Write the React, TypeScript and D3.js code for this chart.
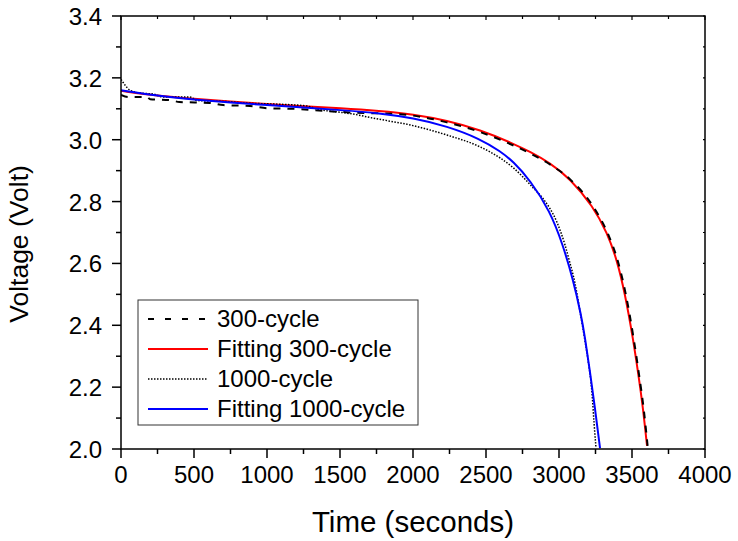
import React from "react";
import * as d3 from "d3";

const xMajorTicks = [0, 500, 1000, 1500, 2000, 2500, 3000, 3500, 4000];
const xTickLabels = ["0", "500", "1000", "1500", "2000", "2500", "3000", "3500", "4000"];
const yMajorTicks = [2.0, 2.2, 2.4, 2.6, 2.8, 3.0, 3.2, 3.4];
const yTickLabels = ["2.0", "2.2", "2.4", "2.6", "2.8", "3.0", "3.2", "3.4"];

const seriesNames = ["300-cycle", "Fitting 300-cycle", "1000-cycle", "Fitting 1000-cycle"];

const cycle300: [number, number][] = [
  [0, 3.145], [50, 3.138], [178, 3.138], [200, 3.131], [335, 3.128], [400, 3.122],
  [610, 3.119], [700, 3.112], [884, 3.109], [1000, 3.102], [1226, 3.099], [1400, 3.093],
  [1568, 3.088], [1890, 3.083], [2000, 3.078], [2233, 3.056], [2459, 3.025], [2685, 2.982],
  [2801, 2.956], [2938, 2.92], [3078, 2.871], [3238, 2.781], [3334, 2.697], [3402, 2.609],
  [3458, 2.499], [3512, 2.355], [3546, 2.248], [3580, 2.13], [3607, 2.01],
];

const fit300: [number, number][] = [
  [0, 3.158], [250, 3.142], [500, 3.132], [750, 3.123], [1000, 3.115], [1250, 3.108],
  [1500, 3.102], [1774, 3.093], [2000, 3.082], [2233, 3.062], [2459, 3.032], [2685, 2.988],
  [2801, 2.961], [2938, 2.925], [3075, 2.875], [3233, 2.785], [3329, 2.7], [3397, 2.612],
  [3452, 2.502], [3507, 2.357], [3541, 2.25], [3575, 2.135], [3603, 2.01],
];

const cycle1000: [number, number][] = [
  [0, 3.195], [15, 3.185], [27, 3.177], [62, 3.16], [150, 3.15], [220, 3.148], [288, 3.138],
  [473, 3.138], [520, 3.127], [767, 3.122], [836, 3.119], [1068, 3.115], [1274, 3.109],
  [1342, 3.099], [1479, 3.09], [1589, 3.083], [1726, 3.07], [1842, 3.06], [1959, 3.05],
  [2080, 3.036], [2233, 3.015], [2459, 2.977], [2600, 2.94], [2685, 2.91], [2822, 2.845],
  [2890, 2.81], [2986, 2.733], [3041, 2.66], [3070, 2.61], [3110, 2.535], [3144, 2.445],
  [3178, 2.35], [3199, 2.288], [3226, 2.181], [3240, 2.085], [3253, 2.005],
];

const fit1000: [number, number][] = [
  [0, 3.16], [250, 3.142], [500, 3.13], [750, 3.12], [1000, 3.112], [1250, 3.104],
  [1500, 3.096], [1774, 3.086], [2000, 3.07], [2233, 3.044], [2459, 3.003], [2600, 2.962],
  [2685, 2.93], [2801, 2.87], [2938, 2.77], [3027, 2.66], [3096, 2.548], [3151, 2.435],
  [3178, 2.36], [3212, 2.25], [3247, 2.13], [3281, 2.003],
];

const W = 738;
const H = 541;
const left = 121;
const right = 705;
const top = 16;
const bottom = 449;
const FONT = "'Liberation Sans', Arial, Helvetica, sans-serif";

export default function App() {
  const x = d3.scaleLinear().domain([0, 4000]).range([left, right]);
  const y = d3.scaleLinear().domain([2.0, 3.4]).range([bottom, top]);

  const lineFit = d3
    .line<[number, number]>()
    .x((d) => x(d[0]))
    .y((d) => y(d[1]))
    .curve(d3.curveBasis);
  const lineData = d3
    .line<[number, number]>()
    .x((d) => x(d[0]))
    .y((d) => y(d[1]))
    .curve(d3.curveMonotoneX);

  const xMinor = d3.range(250, 4000, 500);
  const yMinor = d3.range(2.1, 3.4, 0.2);

  const styles = [
    { stroke: "#000", width: 2, dash: "7,7" },
    { stroke: "#ff0000", width: 2, dash: undefined },
    { stroke: "#000", width: 1.5, dash: "1.5,1.5" },
    { stroke: "#0000ff", width: 2, dash: undefined },
  ];

  const legendX = 138;
  const legendY = 300;
  const rowBase = [327, 357, 387, 417];

  return (
    <svg
      width={W}
      height={H}
      style={{ position: "absolute", left: 0, top: 0, background: "#fff" }}
      fontFamily={FONT}
    >
      <rect x={0} y={0} width={W} height={H} fill="#fff" />
      <defs>
        <clipPath id="plotclip">
          <rect x={left} y={top} width={right - left} height={bottom - top + 1} />
        </clipPath>
      </defs>

      {/* series */}
      <g clipPath="url(#plotclip)" fill="none">
        <path d={lineFit(fit300) || ""} stroke={styles[1].stroke} strokeWidth={styles[1].width} />
        <path d={lineData(cycle300) || ""} stroke={styles[0].stroke} strokeWidth={styles[0].width} strokeDasharray={styles[0].dash} />
        <path d={lineData(cycle1000) || ""} stroke={styles[2].stroke} strokeWidth={styles[2].width} strokeDasharray={styles[2].dash} />
        <path d={lineFit(fit1000) || ""} stroke={styles[3].stroke} strokeWidth={styles[3].width} />
      </g>

      {/* frame */}
      <rect x={left} y={top} width={right - left} height={bottom - top} fill="none" stroke="#000" strokeWidth={1.5} />

      {/* bottom ticks */}
      {xMajorTicks.map((t, i) => (
        <g key={"xb" + i}>
          <line x1={x(t)} x2={x(t)} y1={bottom} y2={bottom + 9} stroke="#000" strokeWidth={1.5} />
          <line x1={x(t)} x2={x(t)} y1={top} y2={top + 4} stroke="#000" strokeWidth={1.2} />
          <text x={x(t)} y={483} textAnchor="middle" fontSize={24} fill="#000">
            {xTickLabels[i]}
          </text>
        </g>
      ))}
      {xMinor.map((t, i) => (
        <g key={"xm" + i}>
          <line x1={x(t)} x2={x(t)} y1={bottom} y2={bottom + 5} stroke="#000" strokeWidth={1.5} />
          <line x1={x(t)} x2={x(t)} y1={top} y2={top + 3} stroke="#000" strokeWidth={1.2} />
        </g>
      ))}

      {/* left ticks */}
      {yMajorTicks.map((v, i) => (
        <g key={"yl" + i}>
          <line x1={left - 9} x2={left} y1={y(v)} y2={y(v)} stroke="#000" strokeWidth={1.5} />
          <line x1={right - 2} x2={right} y1={y(v)} y2={y(v)} stroke="#000" strokeWidth={1.2} />
          <text x={102} y={y(v) + 9} textAnchor="end" fontSize={24} fill="#000">
            {yTickLabels[i]}
          </text>
        </g>
      ))}
      {yMinor.map((v, i) => (
        <g key={"ym" + i}>
          <line x1={left - 5} x2={left} y1={y(v)} y2={y(v)} stroke="#000" strokeWidth={1.5} />
          <line x1={right - 2} x2={right} y1={y(v)} y2={y(v)} stroke="#000" strokeWidth={1.2} />
        </g>
      ))}

      {/* axis titles */}
      <text x={413} y={532} textAnchor="middle" fontSize={29.5} fill="#000">
        Time (seconds)
      </text>
      <text
        transform={`translate(28, 244) rotate(-90)`}
        textAnchor="middle"
        fontSize={26.5}
        fill="#000"
      >
        Voltage (Volt)
      </text>

      {/* legend */}
      <rect x={legendX} y={legendY} width={280} height={125} fill="#fff" stroke="#333" strokeWidth={1} />
      {seriesNames.map((name, i) => (
        <g key={"lg" + i}>
          <line
            x1={148}
            x2={208}
            y1={rowBase[i] - 8}
            y2={rowBase[i] - 8}
            stroke={styles[i].stroke}
            strokeWidth={styles[i].width}
            strokeDasharray={i === 0 ? "6,11" : styles[i].dash}
          />
          <text x={217} y={rowBase[i]} fontSize={24} fill="#000">
            {name}
          </text>
        </g>
      ))}
    </svg>
  );
}
